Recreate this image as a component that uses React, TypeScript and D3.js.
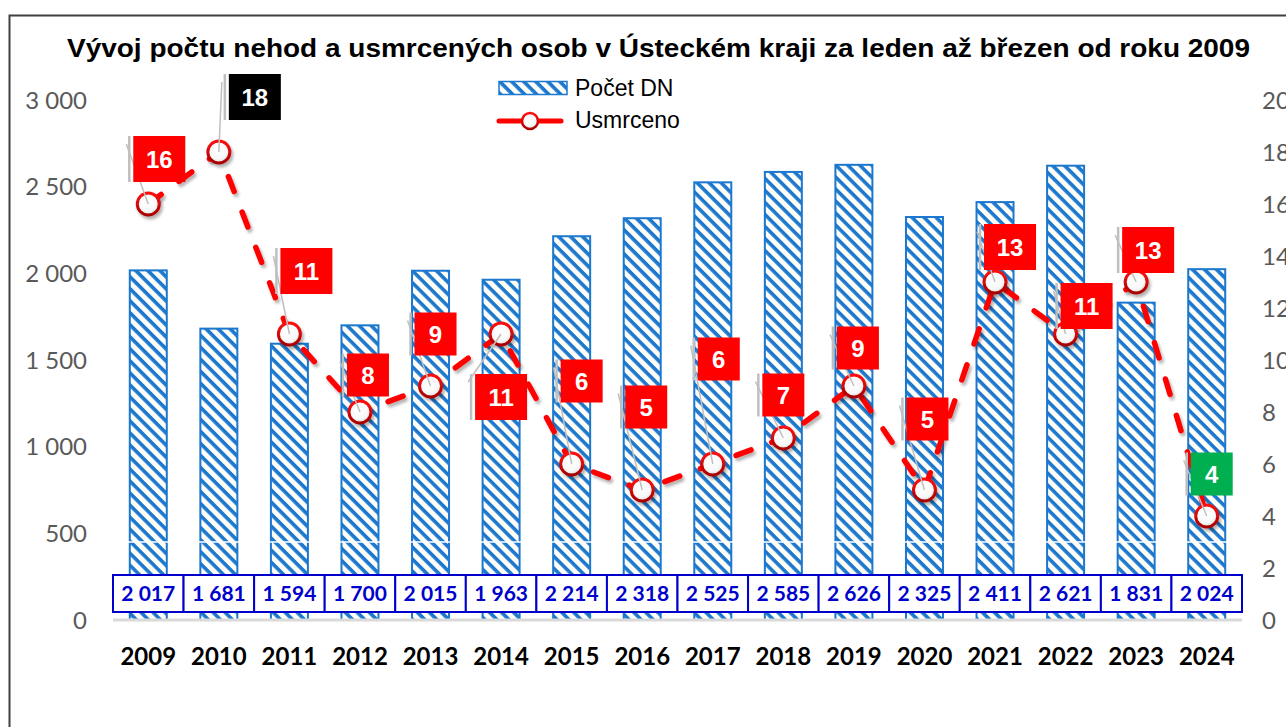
import React from 'react';
import * as d3 from 'd3';

const years = ['2009','2010','2011','2012','2013','2014','2015','2016','2017','2018','2019','2020','2021','2022','2023','2024'];
const accidents = [2017,1681,1594,1700,2015,1963,2214,2318,2525,2585,2626,2325,2411,2621,1831,2024];
const deaths = [16,18,11,8,9,11,6,5,6,7,9,5,13,11,13,4];
const leftTicks = [0,500,1000,1500,2000,2500,3000];
const rightTicks = [0,2,4,6,8,10,12,14,16,18,20];
// layout: offset of each death label box centre from its point
const labelOffsets: [number, number][] = [[11,-45],[36,-55],[17,-63],[8,-37],[5,-52],[0,63],[10,-83],[4,-83],[6,-105],[0,-43],[4,-38],[3,-71],[15,-35],[21,-28],[12,-32],[5,-42]];

const W = 1286, H = 727;
const X0 = 113, X1 = 1242, Y0 = 620, YT = 100;
const BLUE = '#1C78CE';
const fmt = (v: number) => d3.format(',')(v).replace(/,/g, ' ');

export default function App() {
  const x = d3.scaleBand<string>().domain(years).range([X0, X1]).paddingInner(0).paddingOuter(0);
  const yL = d3.scaleLinear().domain([0, 3000]).range([Y0, YT]);
  const yR = d3.scaleLinear().domain([0, 20]).range([Y0, YT]);
  const bw = 37;
  const cx = (y: string) => (x(y) as number) + x.bandwidth() / 2;
  const pts = deaths.map((d, i) => [cx(years[i]), yR(d)] as [number, number]);
  const linePath = d3.line()(pts) as string;
  const maxI = deaths.indexOf(Math.max(...deaths));
  const lastI = deaths.length - 1;
  const boxTop = 575, boxBot = 612;

  return (
    <svg width={W} height={H} style={{ position: 'absolute', left: 0, top: 0, background: '#fff' }}>
      <defs>
        <pattern id="hatch" patternUnits="userSpaceOnUse" width="8.5" height="8.5" patternTransform="rotate(45)">
          <rect width="8.5" height="8.5" fill="#FFFEF9" />
          <rect width="8.5" height="3.6" fill={BLUE} />
        </pattern>
        <filter id="sh" x="-50%" y="-50%" width="200%" height="200%">
          <feDropShadow dx="2" dy="3" stdDeviation="1.8" floodColor="#000" floodOpacity="0.3" />
        </filter>
        <radialGradient id="mfill" cx="45%" cy="40%" r="60%">
          <stop offset="0%" stopColor="#ffffff" />
          <stop offset="70%" stopColor="#f8f8f8" />
          <stop offset="100%" stopColor="#d8d8d8" />
        </radialGradient>
        <linearGradient id="mstroke" x1="0" y1="0" x2="0" y2="1">
          <stop offset="0%" stopColor="#FF1010" />
          <stop offset="100%" stopColor="#A80000" />
        </linearGradient>
      </defs>

      <rect x={9.5} y={15.5} width={1400} height={800} fill="none" stroke="#404040" strokeWidth={2} />

      <text x={658.5} y={57} textAnchor="middle" textLength={1183} lengthAdjust="spacingAndGlyphs" fontFamily="'Liberation Sans', Arial, sans-serif" fontWeight="bold" fontSize={26.5} fill="#000">
        Vývoj počtu nehod a usmrcených osob v Ústeckém kraji za leden až březen od roku 2009
      </text>

      {/* legend */}
      <rect x={499} y={81.5} width={68} height={13} fill="url(#hatch)" stroke={BLUE} strokeWidth={1.5} />
      <text x={575} y={96} fontFamily="'Liberation Sans', Arial, sans-serif" fontSize={23} fill="#000">Počet DN</text>
      <line x1={499} x2={561} y1={121} y2={121} stroke="#FF0000" strokeWidth={5} strokeLinecap="round" />
      <circle cx={530} cy={121} r={8} fill="url(#mfill)" stroke="url(#mstroke)" strokeWidth={2.5} />
      <text x={575} y={128} fontFamily="'Liberation Sans', Arial, sans-serif" fontSize={23} fill="#000">Usmrceno</text>

      {/* left axis labels */}
      {leftTicks.map(t => (
        <text key={'l' + t} x={87} y={yL(t)} dy="0.36em" textAnchor="end" fontFamily="Lato, sans-serif" fontSize={24} fill="#595959">{fmt(t)}</text>
      ))}
      {rightTicks.map(t => (
        <text key={'r' + t} x={1262} y={yR(t)} dy="0.36em" textAnchor="start" fontFamily="Lato, sans-serif" fontSize={24} fill="#595959">{t}</text>
      ))}

      {/* bars */}
      {accidents.map((v, i) => (
        <g key={'b' + i}>
          <rect x={cx(years[i]) - bw / 2} y={yL(v)} width={bw} height={Y0 - yL(v)} fill="url(#hatch)" stroke={BLUE} strokeWidth={2} />
          <line x1={cx(years[i]) - bw / 2 - 2} x2={cx(years[i]) + bw / 2 + 2} y1={yL(450)} y2={yL(450)} stroke="#fff" strokeWidth={1.5} />
        </g>
      ))}

      {/* baseline */}
      <line x1={X0} x2={X1} y1={Y0} y2={Y0} stroke="#D9D9D9" strokeWidth={3} />

      {/* value boxes */}
      {accidents.map((v, i) => (
        <g key={'v' + i}>
          <rect x={x(years[i]) as number} y={boxTop} width={x.bandwidth()} height={boxBot - boxTop} fill="#fff" stroke="#0000CC" strokeWidth={2} />
          <text x={cx(years[i])} y={(boxTop + boxBot) / 2} dy="0.36em" textAnchor="middle" fontFamily="Lato, sans-serif" fontWeight="bold" fontSize={21} fill="#0000CC">{fmt(v)}</text>
        </g>
      ))}

      {/* year labels */}
      {years.map(y => (
        <text key={'y' + y} x={cx(y)} y={665} textAnchor="middle" fontFamily="Lato, sans-serif" fontWeight="bold" fontSize={24} fill="#000">{y}</text>
      ))}

      {/* line */}
      <path d={linePath} fill="none" stroke="#FF0000" strokeWidth={5.5} strokeLinecap="round" strokeDasharray="16 22" filter="url(#sh)" />

      {/* markers */}
      {pts.map((p, i) => (
        <circle key={'m' + i} cx={p[0]} cy={p[1]} r={11} fill="url(#mfill)" stroke="url(#mstroke)" strokeWidth={3} filter="url(#sh)" />
      ))}

      {/* labels */}
      {deaths.map((d, i) => {
        const [px, py] = pts[i];
        const [dx, dy] = labelOffsets[i];
        const w = String(d).length > 1 ? 52 : 42;
        const h = String(d).length > 1 ? 46 : 43;
        const bx = px + dx - w / 2, by = py + dy - h / 2;
        const fill = i === maxI ? '#000000' : i === lastI ? '#00B050' : '#FF0000';
        return (
          <g key={'lab' + i}>
            <line x1={px} y1={py} x2={bx - 7} y2={by + 8} stroke="#BFBFBF" strokeWidth={1.5} />
            <line x1={bx - 4} y1={by} x2={bx - 4} y2={by + h} stroke="#BFBFBF" strokeWidth={2.5} />
            <rect x={bx} y={by} width={w} height={h} fill={fill} />
            <text x={bx + w / 2} y={by + h / 2} dy="0.36em" textAnchor="middle" fontFamily="'Liberation Sans', Arial, sans-serif" fontWeight="bold" fontSize={24} fill="#fff">{d}</text>
          </g>
        );
      })}
    </svg>
  );
}
